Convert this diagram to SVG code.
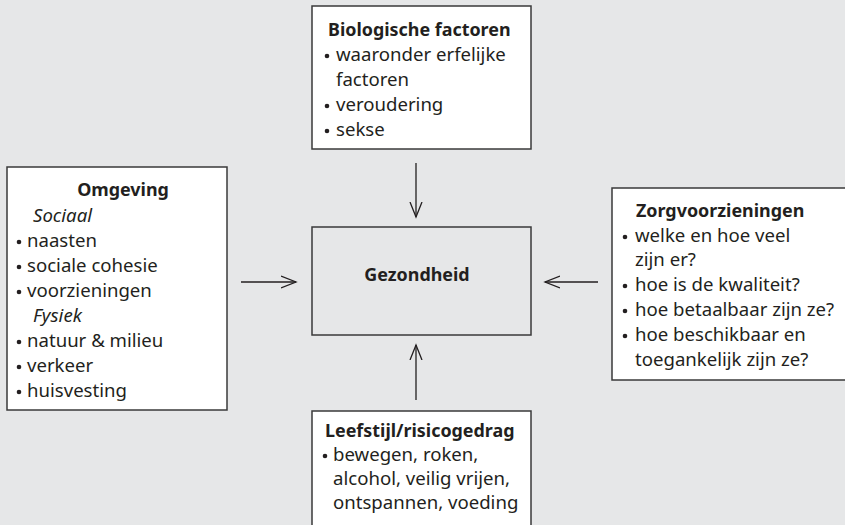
<svg xmlns="http://www.w3.org/2000/svg" width="845" height="525" viewBox="0 0 845 525">
<defs>
<style>
.box{fill:#ffffff;stroke:#3a3a3a;stroke-width:1.5}
.cbox{fill:#e6e7e8;stroke:#3a3a3a;stroke-width:1.5}
text{font-family:"Noto Sans","Open Sans","DejaVu Sans",sans-serif;font-size:18.6px;fill:#231f20}
.t{font-weight:bold;font-size:17.9px}
.i{font-style:italic}
.dot{fill:#231f20}
.con{stroke:#231f20;stroke-width:1.3;fill:none}
</style>
<marker id="ah" markerUnits="userSpaceOnUse" markerWidth="18" markerHeight="16" refX="15" refY="7" orient="auto">
<path d="M0,1 L15,7 L0,13" fill="none" stroke="#231f20" stroke-width="1.3"/>
</marker>
</defs>
<rect x="0" y="0" width="845" height="525" fill="#e6e7e8"/>

<g id="biologische">
<rect class="box" x="312" y="6" width="219" height="143"/>
<text class="t" x="328" y="36">Biologische factoren</text>
<circle class="dot" cx="327" cy="56" r="2.3"/>
<text x="336" y="61">waaronder erfelijke</text>
<text x="336" y="86">factoren</text>
<circle class="dot" cx="327" cy="106" r="2.3"/>
<text x="336" y="111">veroudering</text>
<circle class="dot" cx="327" cy="131" r="2.3"/>
<text x="336" y="136">sekse</text>
</g>

<g id="omgeving">
<rect class="box" x="7" y="167" width="220" height="243"/>
<text class="t" x="123" y="196" text-anchor="middle">Omgeving</text>
<text class="i" x="33" y="222">Sociaal</text>
<circle class="dot" cx="19" cy="242" r="2.3"/>
<text x="27" y="247">naasten</text>
<circle class="dot" cx="19" cy="267" r="2.3"/>
<text x="27" y="272">sociale cohesie</text>
<circle class="dot" cx="19" cy="292" r="2.3"/>
<text x="27" y="297">voorzieningen</text>
<text class="i" x="33" y="322">Fysiek</text>
<circle class="dot" cx="19" cy="342" r="2.3"/>
<text x="27" y="347">natuur &amp; milieu</text>
<circle class="dot" cx="19" cy="367" r="2.3"/>
<text x="27" y="372">verkeer</text>
<circle class="dot" cx="19" cy="392" r="2.3"/>
<text x="27" y="397">huisvesting</text>
</g>

<g id="gezondheid">
<rect class="cbox" x="312" y="227" width="219" height="108"/>
<text class="t" x="417" y="281" text-anchor="middle">Gezondheid</text>
</g>

<g id="zorg">
<rect class="box" x="612" y="188" width="240" height="192"/>
<text class="t" x="636" y="217">Zorgvoorzieningen</text>
<circle class="dot" cx="625" cy="237" r="2.3"/>
<text x="635" y="242">welke en hoe veel</text>
<text x="635" y="266">zijn er?</text>
<circle class="dot" cx="625" cy="286" r="2.3"/>
<text x="635" y="291">hoe is de kwaliteit?</text>
<circle class="dot" cx="625" cy="311" r="2.3"/>
<text x="635" y="316">hoe betaalbaar zijn ze?</text>
<circle class="dot" cx="625" cy="336" r="2.3"/>
<text x="635" y="341">hoe beschikbaar en</text>
<text x="635" y="366">toegankelijk zijn ze?</text>
</g>

<g id="leefstijl">
<rect class="box" x="312" y="411" width="219" height="130"/>
<text class="t" x="325" y="437">Leefstijl/risicogedrag</text>
<circle class="dot" cx="325" cy="456" r="2.3"/>
<text x="333" y="461">bewegen, roken,</text>
<text x="333" y="485">alcohol, veilig vrijen,</text>
<text x="333" y="509">ontspannen, voeding</text>
</g>

<g id="connectors">
<line class="con" x1="416" y1="163" x2="416" y2="217" marker-end="url(#ah)"/>
<line class="con" x1="241" y1="282" x2="296" y2="282" marker-end="url(#ah)"/>
<line class="con" x1="598" y1="282" x2="545" y2="282" marker-end="url(#ah)"/>
<line class="con" x1="416" y1="400" x2="416" y2="345" marker-end="url(#ah)"/>
</g>
</svg>
